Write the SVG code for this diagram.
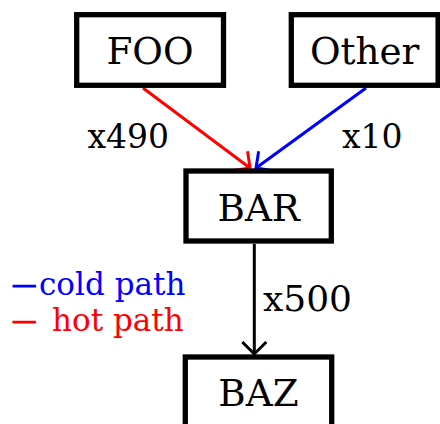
<svg xmlns="http://www.w3.org/2000/svg" width="440" height="424" viewBox="0 0 440 424">
<style>
.box{fill:#fff;stroke:#000;stroke-width:5.3}
.lbl{font-family:"DejaVu Serif",serif;font-size:37.3px;text-anchor:middle;fill:#000}
.edge{fill:none;stroke-width:3}
.elbl{font-family:"DejaVu Serif",serif;fill:#000}
.dash{font-size:24.5px;stroke-width:1.2}
</style>
<defs>
<marker id="ahR" markerUnits="userSpaceOnUse" viewBox="-20 -20 40 40" markerWidth="40" markerHeight="40" refX="0" refY="0" orient="auto" overflow="visible">
<path d="M-12,-12 L0,0 L-12,12" fill="none" stroke="#f00" stroke-width="3"/>
</marker>
<marker id="ahB" markerUnits="userSpaceOnUse" viewBox="-20 -20 40 40" markerWidth="40" markerHeight="40" refX="0" refY="0" orient="auto" overflow="visible">
<path d="M-12,-12 L0,0 L-12,12" fill="none" stroke="#00f" stroke-width="3"/>
</marker>
<marker id="ahK" markerUnits="userSpaceOnUse" viewBox="-20 -20 40 40" markerWidth="40" markerHeight="40" refX="0" refY="0" orient="auto" overflow="visible">
<path d="M-12,-12 L0,0 L-12,12" fill="none" stroke="#000" stroke-width="3"/>
</marker>
</defs>
<g id="connectors">
<line class="edge" x1="143" y1="88" x2="250" y2="168" stroke="#f00" marker-end="url(#ahR)"/>
<line class="edge" x1="366" y1="88" x2="256" y2="168" stroke="#00f" marker-end="url(#ahB)"/>
<line class="edge" x1="254.3" y1="244" x2="254.3" y2="354" stroke="#000" marker-end="url(#ahK)"/>
<text class="elbl" x="87.5" y="147.7" font-size="33">x490</text>
<text class="elbl" x="342" y="147.7" font-size="33">x10</text>
<text class="elbl" x="263" y="311" font-size="36">x500</text>
</g>
<g id="node-foo">
<rect class="box" x="76.7" y="14.7" width="146.8" height="70.6"/>
<text class="lbl" x="150" y="64">FOO</text>
</g>
<g id="node-other">
<rect class="box" x="291.3" y="14.7" width="146.8" height="70.6"/>
<text class="lbl" x="364.7" y="64">Other</text>
</g>
<g id="node-bar">
<rect class="box" x="186" y="171" width="145.3" height="70"/>
<text class="lbl" x="258.7" y="220.7">BAR</text>
</g>
<g id="node-baz">
<rect class="box" x="185.3" y="357" width="146.4" height="70"/>
<text class="lbl" x="258.5" y="405.7">BAZ</text>
</g>
<g id="legend" font-family="DejaVu Serif, serif" font-size="31">
<text fill="#00f"><tspan class="dash" x="12" y="292.6" stroke="#00f">—</tspan><tspan x="39" y="295">cold path</tspan></text>
<text fill="#f00"><tspan class="dash" x="12" y="328.6" stroke="#f00">— </tspan><tspan x="52" y="330.7">hot path</tspan></text>
</g>
</svg>
